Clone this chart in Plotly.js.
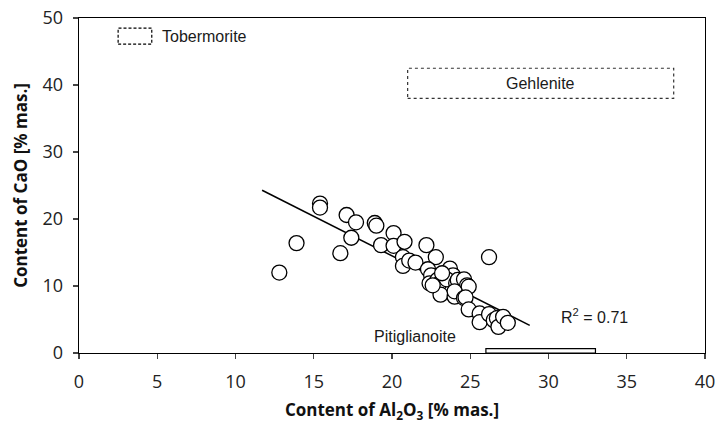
<!DOCTYPE html>
<html>
<head>
<meta charset="utf-8">
<script src="https://cdn.plot.ly/plotly-3.0.1.min.js"></script>
<style>html,body{margin:0;padding:0;background:#fff;}#chart{width:716px;height:423px;}</style>
</head>
<body>
<div id="chart"></div>
<script>
// Al2O3 content [% mas.]
const al2o3 = [12.8, 13.9, 15.4, 15.4, 17.1, 17.7, 16.7, 17.4, 18.9, 19.0,
  19.3, 20.1, 20.1, 20.8, 20.7, 20.7, 21.1, 21.5, 22.2, 22.8,
  22.3, 22.5, 22.4, 22.9, 23.0, 23.1, 23.7, 23.9, 23.5, 23.2,
  24.1, 24.2, 24.6, 24.8, 24.9, 24.0, 24.0, 24.6, 24.7, 24.9,
  26.2, 25.6, 25.6, 26.2, 26.5, 26.7, 26.8, 27.1, 27.4, 22.6];
// CaO content [% mas.]
const cao = [12.0, 16.4, 22.3, 21.7, 20.6, 19.5, 14.9, 17.2, 19.4, 19.0,
  16.1, 17.9, 16.0, 16.6, 14.3, 13.0, 13.8, 13.5, 16.1, 14.3,
  12.5, 11.6, 10.4, 10.9, 10.3, 8.7, 12.6, 11.6, 11.0, 11.9,
  10.4, 10.9, 11.0, 10.1, 9.9, 8.4, 9.2, 8.2, 8.3, 6.5,
  14.3, 5.9, 4.6, 5.8, 4.9, 5.2, 3.9, 5.4, 4.5, 10.1];
// linear trend
const trendSlope = -1.18;
const trendIntercept = 38.1;
const trendX = [11.7, 28.8];
const trendY = trendX.map(v => trendSlope * v + trendIntercept);

const xTicks = [0, 5, 10, 15, 20, 25, 30, 35, 40];
const yTicks = [0, 10, 20, 30, 40, 50];

const labelFont = {family: 'Liberation Sans, Arial, sans-serif', size: 16, color: '#1a1a1a'};
const tickFont = {family: 'Open Sans, sans-serif', size: 18, color: '#222'};
const titleFont = {family: 'Open Sans, sans-serif', size: 17, color: '#111', weight: 'bold'};

const traces = [
  {x: trendX, y: trendY, mode: 'lines', line: {color: '#000', width: 1.5}, hoverinfo: 'skip', showlegend: false},
  {x: al2o3, y: cao, mode: 'markers', showlegend: false,
   marker: {symbol: 'circle', size: 15, color: '#ffffff', line: {color: '#000', width: 1.3}}}
];

const layout = {
  width: 716, height: 423,
  margin: {l: 79, r: 11, t: 18, b: 70},
  paper_bgcolor: '#fff', plot_bgcolor: '#fff',
  font: {family: 'Open Sans, sans-serif', size: 16, color: '#222'},
  xaxis: {range: [0, 40], tickvals: xTicks, ticks: 'outside', ticklen: 5, tickwidth: 1.3,
    ticklabelstandoff: 7,
    showline: true, linecolor: '#000', linewidth: 1.3, mirror: true, showgrid: false, zeroline: false,
    tickfont: tickFont,
    title: {text: 'Content of Al<sub>2</sub>O<sub>3</sub> [% mas.]', standoff: 12, font: titleFont}},
  yaxis: {range: [0, 50], tickvals: yTicks, ticks: 'outside', ticklen: 5, tickwidth: 1.3,
    ticklabelstandoff: 6,
    showline: true, linecolor: '#000', linewidth: 1.3, mirror: true, showgrid: false, zeroline: false,
    tickfont: tickFont,
    title: {text: 'Content of CaO [% mas.]', standoff: 10, font: titleFont}},
  shapes: [
    {type: 'rect', xref: 'x', yref: 'y', x0: 2.5, x1: 4.65, y0: 46.1, y1: 48.5, line: {color: '#000', width: 1.2, dash: '3px,2px'}},
    {type: 'rect', xref: 'x', yref: 'y', x0: 21, x1: 38, y0: 38, y1: 42.5, line: {color: '#333', width: 1.2, dash: 'dot'}},
    {type: 'rect', xref: 'x', yref: 'y', x0: 26, x1: 33, y0: 0, y1: 0.65, line: {color: '#000', width: 1.2}}
  ],
  annotations: [
    {x: 5.2, y: 47.3, xref: 'x', yref: 'y', text: 'Tobermorite', showarrow: false, xanchor: 'left', font: labelFont},
    {x: 29.5, y: 40.25, xref: 'x', yref: 'y', text: 'Gehlenite', showarrow: false, xanchor: 'center', font: labelFont},
    {x: 21.5, y: 2.4, xref: 'x', yref: 'y', text: 'Pitiglianoite', showarrow: false, xanchor: 'center', font: labelFont},
    {x: 30.7, y: 5.5, xref: 'x', yref: 'y', text: 'R<sup>2</sup> = 0.71', showarrow: false, xanchor: 'left', font: labelFont}
  ]
};

Plotly.newPlot('chart', traces, layout, {staticPlot: true, displayModeBar: false});
</script>
</body>
</html>
